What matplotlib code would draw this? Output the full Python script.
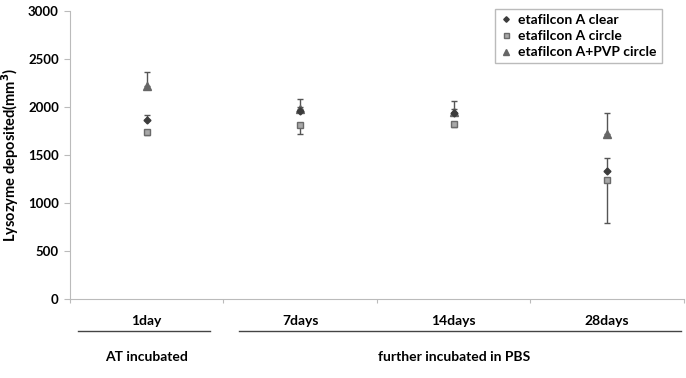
import matplotlib
matplotlib.use("Agg")
import matplotlib.pyplot as plt
from matplotlib.lines import Line2D
import numpy as np

plt.rcParams['font.family'] = ['Lato', 'DejaVu Sans']
plt.rcParams['font.weight'] = 'bold'

### data
days = ["1day", "7days", "14days", "28days"]
groups = ["AT incubated", "further incubated in PBS"]
group_span = [(0, 0), (1, 3)]   # first/last category index of each group

clear_vals = [1860, 1955, 1935, 1335]
clear_err = [60, 45, 40, 135]          # upper only
circle_vals = [1740, 1810, 1825, 1235]
circle_err = [30, 90, 30, 445]         # lower only
pvp_vals = [2220, 1975, 1945, 1720]
pvp_err = [145, 110, 120, 220]         # upper only

labels = ["etafilcon A clear", "etafilcon A circle", "etafilcon A+PVP circle"]

x = np.arange(len(days))
zeros = [0]*len(days)

fig = plt.figure(figsize=(6.86, 3.78), dpi=100)
ax = fig.add_axes([0.102, 0.209, 0.895, 0.762])

ecol = "#555555"
sty = dict(clear=dict(marker='D', ms=3.5, mfc="#3c3c3c", mec="#3c3c3c"),
		   circle=dict(marker='s', ms=4.5, mfc="#a8a8a8", mec="#6a6a6a"),
		   pvp=dict(marker='^', ms=5.5, mfc="#666666", mec="#666666"))

ax.errorbar(x, pvp_vals, yerr=[zeros, pvp_err], ls='none', **sty['pvp'],
			ecolor=ecol, elinewidth=1, capsize=2.5, capthick=1, zorder=3)
ax.errorbar(x, circle_vals, yerr=[circle_err, zeros], ls='none', **sty['circle'],
			ecolor=ecol, elinewidth=1, capsize=2.5, capthick=1, zorder=3)
ax.errorbar(x, clear_vals, yerr=[zeros, clear_err], ls='none', **sty['clear'],
			ecolor=ecol, elinewidth=1, capsize=2.5, capthick=1, zorder=4)

ax.set_xlim(-0.5, len(days)-0.5)
ax.set_ylim(0, 3000)
ax.set_yticks(np.arange(0, 3001, 500))
ax.tick_params(axis='y', labelsize=9.5, length=4, color="#bbbbbb", pad=4)
ax.set_ylabel("Lysozyme deposited(mm$^3$)", fontsize=10.5, fontweight='bold', labelpad=5)

# category ticks sit on the boundaries
ax.set_xticks(np.arange(-0.5, len(days)))
ax.set_xticklabels([])
ax.tick_params(axis='x', length=3, color="#bbbbbb")
for i, d in enumerate(days):
	ax.text(i, -0.075, d, transform=ax.get_xaxis_transform(), ha='center', va='center', fontsize=10)

for (a, b), g in zip(group_span, groups):
	x0 = a - 0.45 if a == 0 else a - 0.4
	x1 = b + 0.41 if b == 0 else b + 0.48
	ax.plot([x0, x1], [-0.11, -0.11], transform=ax.get_xaxis_transform(), color="#444444",
			lw=1, clip_on=False)
	ax.text((a+b)/2, -0.2, g, transform=ax.get_xaxis_transform(), ha='center', va='center', fontsize=10)

for s in ['top', 'right']:
	ax.spines[s].set_visible(False)
ax.spines['left'].set_color("#bbbbbb")
ax.spines['bottom'].set_color("#bbbbbb")

handles = [Line2D([], [], ls='none', **dict(sty[k], ms=sty[k]['ms']*0.8)) for k in ['clear', 'circle', 'pvp']]
leg = ax.legend(handles, labels, loc='upper right', bbox_to_anchor=(0.975, 1.03),
				fontsize=10, frameon=True, fancybox=False, edgecolor="#aaaaaa",
				handlelength=0.8, handletextpad=0.5, borderpad=0.35, labelspacing=0.3)

fig.savefig("out.png", dpi=100)
